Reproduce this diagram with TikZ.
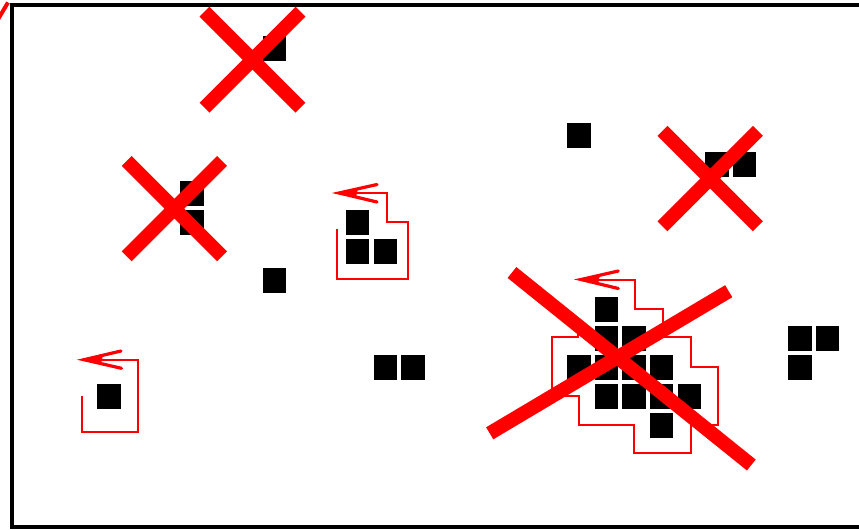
\documentclass[tikz,border=0pt]{standalone}
\begin{document}
\begin{tikzpicture}[x=0.75pt,y=-0.75pt,
  cellsq/.style={fill=black},
  trail/.style={draw=red,line width=1.5pt,line join=miter},
  head/.style={draw=red,line width=2.4pt,line cap=round},
  wedge/.style={fill=red},
  cross/.style={draw=red,line width=10.5pt},
  frame/.style={draw=black,line width=3pt}]
\useasboundingbox (0,0) rectangle (859,529);
\clip (0,0) rectangle (859,529);
\fill[white] (0,0) rectangle (859,529);
% frame (right side runs off the picture)
\draw[frame] (880,5.3) -- (12,5.3) -- (12,527) -- (880,527);
% corner fragment
\draw[red,line width=3pt] (-3,21) -- (8,2.5);
% cells
\foreach \c/\r in {9/1,6/6,6/7,9/9,12/7,12/8,13/8,13/12,14/12,3/13,20/4,25/5,26/5,
  28/11,29/11,28/12,21/10,21/11,22/11,20/12,21/12,22/12,23/12,21/13,22/13,23/13,24/13,23/14}
  \fill[cellsq] ({14.4+27.64*\c},{7.25+29*\r}) rectangle ++(23.3,24.4);
% trails
\draw[trail] (336.7,229.3) -- (336.7,279.3) -- (408,279.3) -- (408,221.7) -- (386.7,221.7) -- (386.7,193) -- (339,193);
\draw[head] (377,184.5) -- (339,193) -- (377,202);
\fill[wedge] (338,193) -- (358,188.5) -- (356,197.5) -- cycle;
\draw[trail] (82,396) -- (82,432) -- (137.7,432) -- (137.7,359.7) -- (84,359.7);
\draw[head] (121,351) -- (84,359.7) -- (121.5,368.3);
\fill[wedge] (83,359.7) -- (103,355) -- (101,364) -- cycle;
\draw[trail] (578.3,320) -- (578.3,337.3) -- (551.7,337.3) -- (551.7,395.7) -- (579.3,395.7) -- (579.3,425) -- (634.3,425) -- (634.3,453.3) -- (690.7,453.3) -- (690.7,425) -- (718.3,425) -- (718.3,366.7) -- (690.7,366.7) -- (690.7,337.3) -- (662.7,337.3) -- (662.7,309) -- (635,309) -- (635,279.5) -- (581,279.5);
\draw[head] (618.3,271) -- (581,279.5) -- (618.3,288.5);
\fill[wedge] (580,279.5) -- (600,275) -- (598,284) -- cycle;
% crosses
\draw[cross] (204.5,11.7) -- (300.5,107.7) (204.5,107.7) -- (300.5,11.7);
\draw[cross] (126.6,160.9) -- (222,256.3) (126.6,256.3) -- (222,160.9);
\draw[cross] (662.5,130.9) -- (757.9,226.3) (662.5,226.3) -- (757.9,130.9);
\draw[cross] (512,272.5) -- (751.3,465) (489.7,433.3) -- (728.7,291.2);
\end{tikzpicture}
\end{document}
